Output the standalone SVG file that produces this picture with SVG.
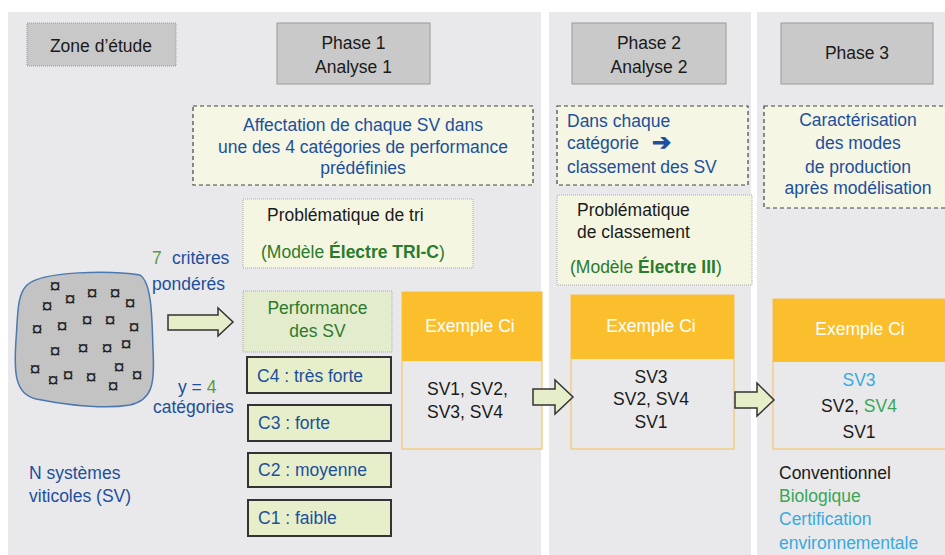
<svg xmlns="http://www.w3.org/2000/svg" width="945" height="555" viewBox="0 0 945 555">
<defs>
<style>
text{font-family:"Liberation Sans",Arial,sans-serif;font-size:17.5px;}
.blk{fill:#1a1a1a;}
.blu{fill:#1d4f9c;}
.grn{fill:#2c7a2c;}
.lgr{fill:#5b9a45;}
.sgr{fill:#3aa655;}
.lbl{fill:#38a9de;}
.wht{fill:#ffffff;}
.c{text-anchor:middle;}
.b{font-weight:bold;}
.panel{fill:#e9e9eb;}
.phase{fill:#c9c9c9;stroke:#9a9a9a;stroke-width:1;}
.dash{fill:#f5f6e3;stroke:#444;stroke-width:1.2;stroke-dasharray:4 3;}
.dot{fill:#f4f6e2;stroke:#aaa;stroke-width:1;stroke-dasharray:1 1;}
.perf{fill:#e4ecce;stroke:#aaa;stroke-width:1;stroke-dasharray:1 1;}
.cat{fill:#e6eeca;stroke:#333;stroke-width:2;}
.hdr{fill:#fbbf2e;}
.body{fill:#e9e9eb;stroke:#f5c66a;stroke-width:1.2;}
.arr{fill:#e6eec9;stroke:#333;stroke-width:1.5;stroke-linejoin:miter;}
.sq{font-size:20px;fill:#222;text-anchor:middle;}
</style>
</defs>
<rect width="945" height="555" fill="#ffffff"/>
<g id="panels">
<rect class="panel" x="8" y="12" width="533" height="543"/>
<rect class="panel" x="549" y="12" width="202" height="543"/>
<rect class="panel" x="757" y="12" width="188" height="543"/>
</g>

<g id="zone">
<rect x="27" y="23" width="149" height="43" fill="#c8c8c8" stroke="#999" stroke-width="1" stroke-dasharray="1 1"/>
<text class="blk c" x="101" y="52">Zone d’étude</text>
</g>

<g id="phase1">
<rect class="phase" x="277" y="23" width="153" height="61"/>
<text class="blk c" x="353.5" y="49">Phase 1</text>
<text class="blk c" x="353.5" y="73">Analyse 1</text>
</g>
<g id="phase2">
<rect class="phase" x="572" y="23" width="154" height="61"/>
<text class="blk c" x="649" y="49">Phase 2</text>
<text class="blk c" x="649" y="73">Analyse 2</text>
</g>
<g id="phase3">
<rect class="phase" x="781" y="23" width="152" height="61"/>
<text class="blk c" x="857" y="59">Phase 3</text>
</g>

<g id="desc1">
<rect class="dash" x="193" y="106" width="340" height="79"/>
<text class="blu c" x="363" y="131">Affectation de chaque SV dans</text>
<text class="blu c" x="363" y="153">une des 4 catégories de performance</text>
<text class="blu c" x="363" y="174">prédéfinies</text>
</g>
<g id="desc2">
<rect class="dash" x="557" y="106" width="191" height="79"/>
<text class="blu" x="567" y="127">Dans chaque</text>
<text class="blu" x="567" y="149">catégorie</text>
<text class="blu b" x="652" y="150" style="font-size:23px">➔</text>
<text class="blu" x="567" y="173">classement des SV</text>
</g>
<g id="desc3">
<rect class="dash" x="764" y="106" width="190" height="102"/>
<text class="blu c" x="858" y="126">Caractérisation</text>
<text class="blu c" x="858" y="149">des modes</text>
<text class="blu c" x="858" y="173">de production</text>
<text class="blu c" x="858" y="194">après modélisation</text>
</g>

<g id="probtri">
<rect class="dot" x="243" y="199" width="230" height="69"/>
<text class="blk" x="267" y="221">Problématique de tri</text>
<text class="grn" x="261" y="258">(Modèle <tspan class="b">Électre TRI-C</tspan>)</text>
</g>
<g id="probclass">
<rect class="dot" x="557" y="195" width="195" height="90"/>
<text class="blk" x="577" y="216">Problématique</text>
<text class="blk" x="577" y="238">de classement</text>
<text class="grn" x="570" y="273">(Modèle <tspan class="b">Électre III</tspan>)</text>
</g>

<g id="sv-set">
<path d="M27,285 C42,271 110,270 140,275 C152,283 152,318 153,350 C155,385 152,400 130,405 C100,410 62,404 36,399 C14,394 14,370 16,340 C18,312 17,295 27,285 Z" fill="#c3c3c3" stroke="#4a78b0" stroke-width="1.5"/>
<text class="sq" x="55" y="293">¤</text>
<text class="sq" x="70" y="306">¤</text>
<text class="sq" x="92" y="300">¤</text>
<text class="sq" x="115" y="300">¤</text>
<text class="sq" x="47" y="313">¤</text>
<text class="sq" x="130" y="310">¤</text>
<text class="sq" x="37" y="336">¤</text>
<text class="sq" x="62" y="333">¤</text>
<text class="sq" x="87" y="327">¤</text>
<text class="sq" x="110" y="327">¤</text>
<text class="sq" x="134" y="334">¤</text>
<text class="sq" x="55" y="358">¤</text>
<text class="sq" x="83" y="355">¤</text>
<text class="sq" x="107" y="355">¤</text>
<text class="sq" x="126" y="351">¤</text>
<text class="sq" x="35" y="376">¤</text>
<text class="sq" x="53" y="387">¤</text>
<text class="sq" x="68" y="382">¤</text>
<text class="sq" x="91" y="384">¤</text>
<text class="sq" x="119" y="374">¤</text>
<text class="sq" x="137" y="382">¤</text>
<text class="sq" x="113" y="393">¤</text>
</g>

<g id="labels-left">
<text x="152" y="264"><tspan class="lgr">7</tspan><tspan class="blu" x="172">critères</tspan></text>
<text class="blu" x="152" y="290">pondérés</text>
<text x="178" y="393"><tspan class="blu">y = </tspan><tspan class="lgr">4</tspan></text>
<text class="blu" x="153" y="413">catégories</text>
<text class="blu" x="29" y="479">N systèmes</text>
<text class="blu" x="29" y="502">viticoles (SV)</text>
</g>

<g id="perf">
<rect class="perf" x="243" y="291" width="149" height="61"/>
<text class="grn c" x="317.5" y="314">Performance</text>
<text class="grn c" x="317.5" y="337">des SV</text>
</g>

<g id="c4">
<rect class="cat" x="247" y="357" width="144" height="36"/>
<text class="blu" x="257" y="382">C4 : très forte</text>
</g>
<g id="c3">
<rect class="cat" x="248" y="405" width="143" height="36"/>
<text class="blu" x="258" y="429">C3 : forte</text>
</g>
<g id="c2">
<rect class="cat" x="248" y="453" width="143" height="34"/>
<text class="blu" x="258" y="476">C2 : moyenne</text>
</g>
<g id="c1">
<rect class="cat" x="248" y="500" width="143" height="36"/>
<text class="blu" x="258" y="524">C1 : faible</text>
</g>

<g id="ex1">
<rect class="body" x="402" y="292" width="140" height="157"/>
<rect class="hdr" x="402" y="292" width="140" height="69"/>
<text class="wht c" x="470" y="332">Exemple Ci</text>
<text class="blk" x="427" y="395">SV1, SV2,</text>
<text class="blk" x="427" y="418">SV3, SV4</text>
</g>
<g id="ex2">
<rect class="body" x="571" y="295" width="163" height="154"/>
<rect class="hdr" x="571" y="295" width="163" height="64"/>
<text class="wht c" x="651" y="332">Exemple Ci</text>
<text class="blk c" x="651" y="383">SV3</text>
<text class="blk c" x="651" y="405">SV2, SV4</text>
<text class="blk c" x="651" y="428">SV1</text>
</g>
<g id="ex3">
<rect class="body" x="773" y="299" width="175" height="150"/>
<rect class="hdr" x="773" y="299" width="175" height="63"/>
<text class="wht c" x="860" y="335">Exemple Ci</text>
<text class="lbl c" x="859" y="386">SV3</text>
<text class="c" x="859" y="412"><tspan class="blk">SV2, </tspan><tspan class="sgr">SV4</tspan></text>
<text class="blk c" x="859" y="438">SV1</text>
</g>

<g id="legend">
<text class="blk" x="779" y="479">Conventionnel</text>
<text class="sgr" x="779" y="502">Biologique</text>
<text class="lbl" x="779" y="525">Certification</text>
<text class="lbl" x="779" y="549">environnementale</text>
</g>

<g id="connectors">
<path class="arr" d="M168,315 H218 V308 L233,322 L218,336 V330 H168 Z"/>
<path class="arr" d="M533,389 H555 V380 L573,397 L555,414 V405 H533 Z"/>
<path class="arr" d="M735,392 H757 V383 L774,400 L757,416 V408 H735 Z"/>
</g>
</svg>
